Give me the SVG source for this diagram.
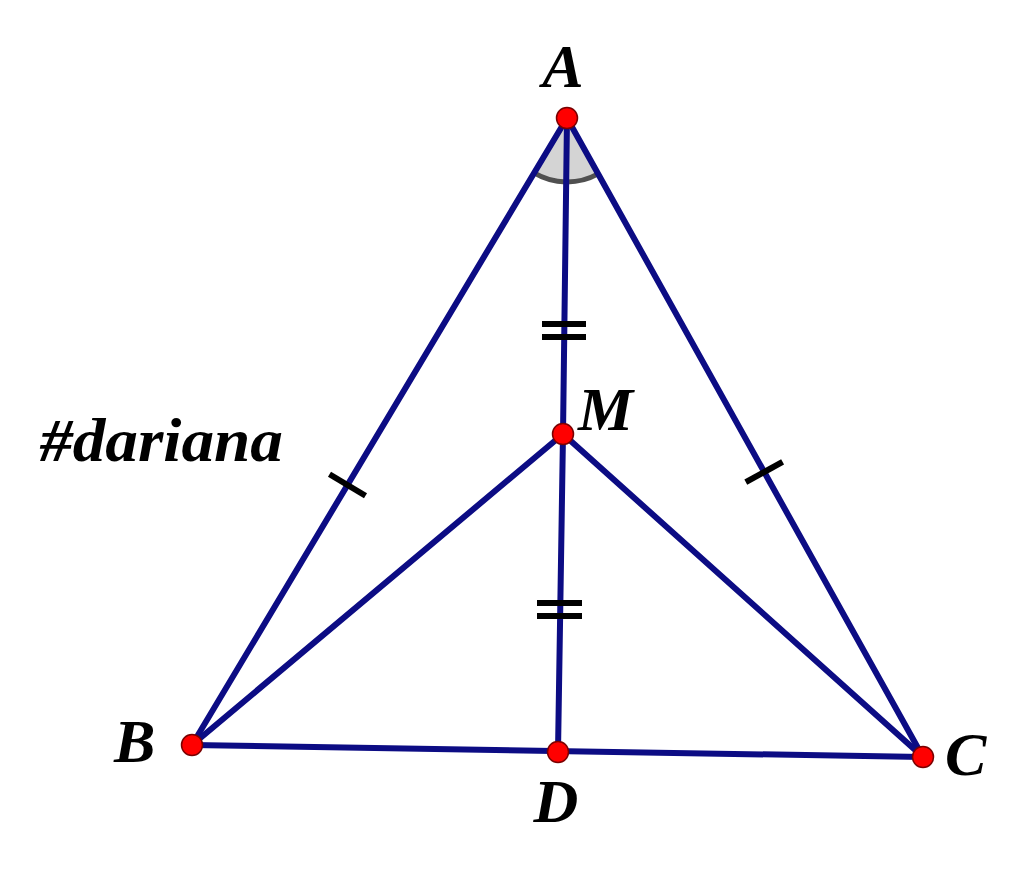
<svg xmlns="http://www.w3.org/2000/svg" width="1024" height="869" viewBox="0 0 1024 869">
<style>
.seg{stroke:#0c0c84;stroke-width:6;stroke-linecap:round;fill:none}
.mark{stroke:#000;stroke-width:6;fill:none}
.pt{fill:#ff0000;stroke:#7a0000;stroke-width:1.5}
.lbl{font-family:"Liberation Serif",serif;font-weight:bold;font-style:italic;font-size:62px;fill:#000}
</style>
<rect width="1024" height="869" fill="#fff"/>
<g id="angle-A">
<path d="M567,118 L534.1,172.9 A64,64 0 0 0 598.1,173.9 Z" fill="#d4d4d4"/>
<path d="M534.1,172.9 A64,64 0 0 0 598.1,173.9" fill="none" stroke="#505050" stroke-width="5"/>
</g>
<g id="connectors">
<line class="seg" x1="567" y1="118" x2="192" y2="745"/>
<line class="seg" x1="567" y1="118" x2="923" y2="757"/>
<line class="seg" x1="192" y1="745" x2="923" y2="757"/>
<line class="seg" x1="567" y1="118" x2="563" y2="434"/>
<line class="seg" x1="563" y1="434" x2="558" y2="752"/>
<line class="seg" x1="563" y1="434" x2="192" y2="745"/>
<line class="seg" x1="563" y1="434" x2="923" y2="757"/>
</g>
<g id="marks">
<line class="mark" x1="329.5" y1="474.2" x2="365.5" y2="495.8"/>
<line class="mark" x1="745.8" y1="482.2" x2="782.6" y2="461.8"/>
<line class="mark" x1="542" y1="324" x2="586" y2="324"/>
<line class="mark" x1="542" y1="337" x2="586" y2="337"/>
<line class="mark" x1="537" y1="603" x2="582" y2="603"/>
<line class="mark" x1="537" y1="616" x2="582" y2="616"/>
</g>
<g id="node-A"><circle class="pt" cx="567" cy="118" r="10.5"/><text class="lbl" x="563" y="87" text-anchor="middle">A</text></g>
<g id="node-M"><circle class="pt" cx="563" cy="434" r="10.5"/><text class="lbl" x="578" y="430">M</text></g>
<g id="node-B"><circle class="pt" cx="192" cy="745" r="10.5"/><text class="lbl" x="114" y="762">B</text></g>
<g id="node-C"><circle class="pt" cx="923" cy="757" r="10.5"/><text class="lbl" x="945" y="775">C</text></g>
<g id="node-D"><circle class="pt" cx="558" cy="752" r="10.5"/><text class="lbl" x="556" y="822" text-anchor="middle">D</text></g>
<g id="watermark"><text class="lbl" x="40" y="461" textLength="243" lengthAdjust="spacingAndGlyphs">#dariana</text></g>
</svg>
